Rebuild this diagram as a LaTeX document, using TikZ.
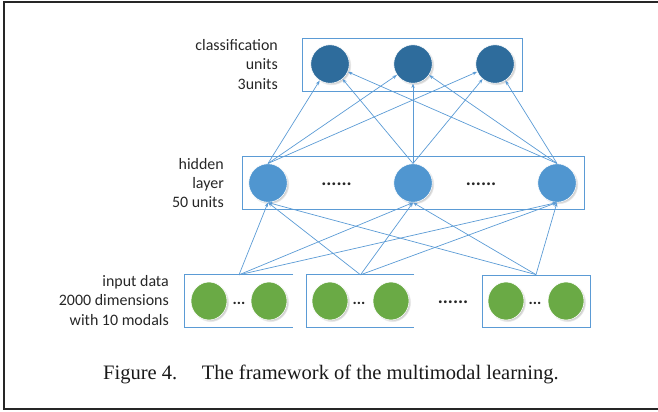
\documentclass[tikz,border=0pt]{standalone}
\usepackage{fontspec}
\setmainfont{Liberation Serif}
\newfontfamily\labelfont{Carlito}
\usetikzlibrary{arrows.meta, shapes.geometric, shadows}
\definecolor{linkblue}{RGB}{91,155,213}
\definecolor{outblue}{RGB}{46,108,156}
\definecolor{hidblue}{RGB}{80,150,208}
\definecolor{ingreen}{RGB}{106,170,69}

\begin{document}
\begin{tikzpicture}[x=1bp, y=-1bp,
    unit/.style={circle, minimum size=38.5bp, inner sep=0pt, draw=white, line width=0.6bp,
        circular drop shadow={shadow scale=1.04, shadow xshift=1.3bp, shadow yshift=-1.3bp, opacity=0.45}},
    inunit/.style={unit, ellipse, minimum width=36bp, minimum height=38bp, fill=ingreen},
    layerbox/.style={draw=linkblue, line width=0.8bp, inner sep=0pt, minimum height=53bp},
    link/.style={draw=linkblue, line width=0.7bp, -{Stealth[length=4.5bp, width=3.4bp]}},
    lbl/.style={font=\labelfont\fontsize{16}{19.5}\selectfont, align=right, anchor=east, inner sep=0pt, text=black!85},
    dots/.style={font=\labelfont\bfseries\fontsize{19}{19}\selectfont, anchor=base, inner sep=0pt, text=black!85},
    smalldots/.style={dots, font=\labelfont\bfseries\fontsize{16}{16}\selectfont}
]
    \useasboundingbox (0,0) rectangle (658,411);
    \draw[line width=2bp, black!85] (658,1.5) -- (3.7,1.5) -- (3.7,409) -- (658,409);

    \node[layerbox, minimum width=219.3bp] (cbox) at (412.4,64.5) {};
    \node[unit, fill=outblue] (c1) at (330,64) {};
    \node[unit, fill=outblue] (c2) at (413,64) {};
    \node[unit, fill=outblue] (c3) at (495,64) {};
    \node[lbl] (clbl) at (278,64.5) {classification\\units\\3units};

    \node[layerbox, minimum width=342bp] (hbox) at (413,182.5) {};
    \node[unit, fill=hidblue] (h1) at (268,183) {};
    \node[unit, fill=hidblue] (h2) at (413,183) {};
    \node[unit, fill=hidblue] (h3) at (557,183) {};
    \node[dots] (hd1) at (336.5,185) {......};
    \node[dots] (hd2) at (481,185) {......};
    \node[lbl] (hlbl) at (224,183) {hidden\\layer\\50 units};

    \node[minimum width=108bp, minimum height=52bp, inner sep=0pt] (in1) at (239,301) {};
    \node[minimum width=107bp, minimum height=52bp, inner sep=0pt] (in2) at (360.5,301) {};
    \node[layerbox, minimum width=108bp, minimum height=52bp] (in3) at (536,301) {};
    \draw[draw=linkblue, line width=0.8bp] (in1.north east) -- (in1.north west) -- (in1.south west) -- (in1.south east);
    \draw[draw=linkblue, line width=0.8bp] (in2.north east) -- (in2.north west) -- (in2.south west) -- (in2.south east);
    \node[inunit] (g1) at (209,301) {};
    \node[inunit] (g2) at (269,301) {};
    \node[inunit] (g3) at (330,301) {};
    \node[inunit] (g4) at (391,301) {};
    \node[inunit] (g5) at (506,301) {};
    \node[inunit] (g6) at (566,301) {};
    \node[smalldots] (gd1) at (239,304) {...};
    \node[smalldots] (gd2) at (359,304) {...};
    \node[smalldots] (gd3) at (535,304) {...};
    \node[dots] (ind) at (453,303) {......};
    \node[lbl] (inlbl) at (169,300.5) {input data\\2000 dimensions\\with 10 modals};

    \draw[link] (in1.north) -- (h1.south);
    \draw[link] (in1.north) -- (h2.south);
    \draw[link] (in1.north) -- (h3.south);
    \draw[link] (in2.north) -- (h1.south);
    \draw[link] (in2.north) -- (h2.south);
    \draw[link] (in2.north) -- (h3.south);
    \draw[link] (in3.north) -- (h1.south);
    \draw[link] (in3.north) -- (h2.south);
    \draw[link] (in3.north) -- (h3.south);

    \draw[link] (h1.north) -- (c1);
    \draw[link] (h1.north) -- (c2);
    \draw[link] (h1.north) -- (c3);
    \draw[link] (h2.north) -- (c1);
    \draw[link] (h2.north) -- (c2);
    \draw[link] (h2.north) -- (c3);
    \draw[link] (h3.north) -- (c1);
    \draw[link] (h3.north) -- (c2);
    \draw[link] (h3.north) -- (c3);

    \node[anchor=base west, inner sep=0pt, font=\fontsize{20.6}{24}\selectfont, text=black!90] (cap) at (103,379)
        {Figure 4.\hspace{1.2em}The framework of the multimodal learning.};
\end{tikzpicture}
\end{document}
